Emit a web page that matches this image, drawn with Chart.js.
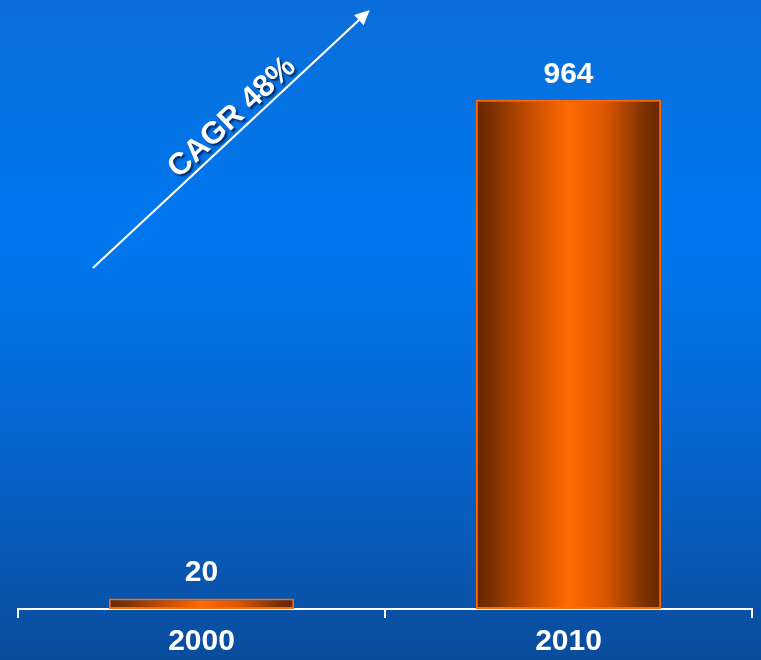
<!DOCTYPE html>
<html>
<head>
<meta charset="utf-8">
<script src="https://cdn.jsdelivr.net/npm/chart.js@4/dist/chart.umd.min.js"></script>
<style>
  html, body { margin: 0; padding: 0; background: #0a5fc0; }
  #wrap { position: relative; width: 761px; height: 660px; }
</style>
</head>
<body>
<div id="wrap"><canvas id="growthChart"></canvas></div>
<script>
(function(){
    "use strict";

    var years = ["2000", "2010"];
    var values = [20, 964];
    var cagrText = "CAGR 48%";

    var fontFamily = "'Liberation Sans', Arial, Helvetica, sans-serif";

    // blue backdrop, brightest a third of the way down
    var backdrop = {
        id: "backdrop",
        beforeDraw: function(chart){
            var ctx = chart.ctx;
            var g = ctx.createLinearGradient(0, 0, 0, chart.height);
            g.addColorStop(0, "#0a6ed9");
            g.addColorStop(0.35, "#0077ef");
            g.addColorStop(0.6, "#046ad8");
            g.addColorStop(1, "#0a4c9c");
            ctx.save();
            ctx.fillStyle = g;
            ctx.fillRect(0, 0, chart.width, chart.height);
            ctx.restore();
        }
    };

    // value printed above each bar
    var valueLabels = {
        id: "valueLabels",
        afterDatasetsDraw: function(chart){
            var ctx = chart.ctx;
            var meta = chart.getDatasetMeta(0);
            ctx.save();
            ctx.fillStyle = "#ffffff";
            ctx.font = "bold 30px " + fontFamily;
            ctx.textAlign = "center";
            ctx.textBaseline = "alphabetic";
            meta.data.forEach(function(bar, i){
                ctx.fillText(String(values[i]), bar.x, bar.y - 17);
            });
            ctx.restore();
        }
    };

    // growth arrow with its caption
    var cagrArrow = {
        id: "cagrArrow",
        afterDraw: function(chart){
            var ctx = chart.ctx;
            var x0 = chart.width * 0.122, y0 = chart.height * 0.406;
            var x1 = chart.width * 0.486, y1 = chart.height * 0.015;
            var ang = Math.atan2(y1 - y0, x1 - x0);
            var len = Math.hypot(x1 - x0, y1 - y0);
            var head = 15, half = 7;

            ctx.save();
            ctx.translate(x0, y0);
            ctx.rotate(ang);
            ctx.strokeStyle = "#ffffff";
            ctx.fillStyle = "#ffffff";
            ctx.lineWidth = 2.2;
            ctx.beginPath();
            ctx.moveTo(0, 0);
            ctx.lineTo(len - head + 2, 0);
            ctx.stroke();
            ctx.beginPath();
            ctx.moveTo(len, 0);
            ctx.lineTo(len - head, -half);
            ctx.lineTo(len - head, half);
            ctx.closePath();
            ctx.fill();

            ctx.font = "bold 31px " + fontFamily;
            ctx.textAlign = "center";
            ctx.textBaseline = "middle";
            ctx.shadowColor = "rgba(0, 20, 60, 0.75)";
            ctx.shadowOffsetX = 2;
            ctx.shadowOffsetY = 2;
            ctx.shadowBlur = 2;
            ctx.fillText(cagrText, len * 0.54, -15);
            ctx.restore();
        }
    };

    // dark-orange-dark shading across each bar
    function barFill(context){
        var chart = context.chart;
        var xs = chart.scales.x;
        if (!xs || !chart.chartArea) return "#ff6a00";
        var cx = xs.getPixelForValue(context.dataIndex);
        var w = (xs.width / years.length) * 0.5;
        var g = chart.ctx.createLinearGradient(cx - w / 2, 0, cx + w / 2, 0);
        g.addColorStop(0, "#6a2600");
        g.addColorStop(0.08, "#7a3000");
        g.addColorStop(0.3, "#c84e00");
        g.addColorStop(0.5, "#ff6a00");
        g.addColorStop(0.7, "#dc5600");
        g.addColorStop(0.92, "#7a3000");
        g.addColorStop(1, "#6a2600");
        return g;
    }

    var chartArea = document.querySelector("#growthChart");
    var growthChart = new Chart(chartArea, {
        type: "bar",
        data: {
            labels: years,
            datasets: [
                {
                    data: values,
                    backgroundColor: barFill,
                    borderColor: "#ff6a00",
                    borderWidth: 2,
                    borderSkipped: false,
                    categoryPercentage: 0.505,
                    barPercentage: 1
                }
            ]
        },
        options: {
            responsive: true,
            maintainAspectRatio: false,
            animation: false,
            layout: { padding: { top: 28, left: 18, right: 9, bottom: 0 } },
            plugins: {
                legend: { display: false },
                tooltip: { enabled: false }
            },
            scales: {
                x: {
                    afterFit: function(scale){ scale.height = 51; },
                    border: { display: true, color: "#ffffff", width: 2 },
                    grid: {
                        offset: true,
                        drawOnChartArea: false,
                        drawTicks: true,
                        tickLength: 9,
                        color: "#ffffff",
                        lineWidth: 2
                    },
                    ticks: {
                        color: "#ffffff",
                        padding: 6,
                        font: { family: fontFamily, size: 30, weight: "bold" }
                    }
                },
                y: {
                    display: false,
                    min: 0,
                    max: 1100
                }
            }
        },
        plugins: [backdrop, valueLabels, cagrArrow]
    });
})();
</script>
</body>
</html>
